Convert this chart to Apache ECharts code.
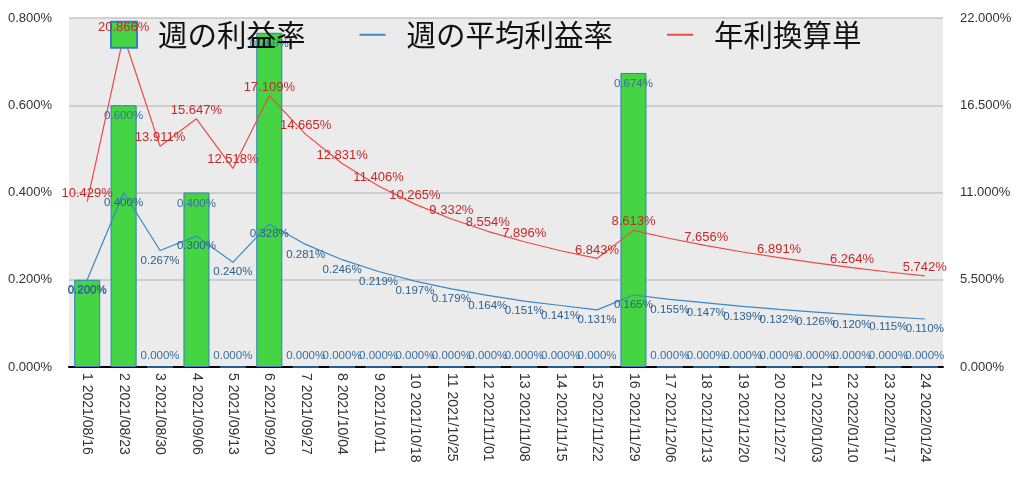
<!DOCTYPE html>
<html>
<head>
<meta charset="utf-8">
<script src="https://cdn.jsdelivr.net/npm/echarts@6/dist/echarts.min.js"></script>
<style>
html,body{margin:0;padding:0;background:#fff;}
#chart{width:1024px;height:479px;}
</style>
</head>
<body>
<div id="chart"></div>
<script>
const categories = ['1 2021/08/16','2 2021/08/23','3 2021/08/30','4 2021/09/06','5 2021/09/13','6 2021/09/20','7 2021/09/27','8 2021/10/04','9 2021/10/11','10 2021/10/18','11 2021/10/25','12 2021/11/01','13 2021/11/08','14 2021/11/15','15 2021/11/22','16 2021/11/29','17 2021/12/06','18 2021/12/13','19 2021/12/20','20 2021/12/27','21 2022/01/03','22 2022/01/10','23 2022/01/17','24 2022/01/24'];
const weeklyRate = [0.200,0.600,0.000,0.400,0.000,0.766,0.000,0.000,0.000,0.000,0.000,0.000,0.000,0.000,0.000,0.674,0.000,0.000,0.000,0.000,0.000,0.000,0.000,0.000];
const avgRate = [0.200,0.400,0.267,0.300,0.240,0.328,0.281,0.246,0.219,0.197,0.179,0.164,0.151,0.141,0.131,0.165,0.155,0.147,0.139,0.132,0.126,0.120,0.115,0.110];
const annualRate = [10.429,20.866,13.911,15.647,12.518,17.109,14.665,12.831,11.406,10.265,9.332,8.554,7.896,7.33,6.843,8.613,8.10,7.656,7.25,6.891,6.56,6.264,5.99,5.742];
const annualHiddenLabels = [13,16,18,20,22];
const leftTicks = {min:0, max:0.8, interval:0.2};
const rightTicks = {min:0, max:22, interval:5.5};

const chart = echarts.init(document.getElementById('chart'), null, {renderer:'canvas'});
const pct = v => Number(v).toFixed(3) + '%';

const barData = weeklyRate.map(v => ({
  value: v,
  label: { position: v > 0 ? 'insideTop' : 'top', distance: 5 }
}));
const annualLabelData = annualRate.map((v, i) => ({
  value: v,
  label: { show: annualHiddenLabels.indexOf(i) < 0 }
}));

chart.setOption({
  animation: false,
  backgroundColor: '#ffffff',
  textStyle: { fontFamily: 'Liberation Sans, Arial, sans-serif' },
  grid: { left: 69, right: 81, top: 18, bottom: 112, show: true, backgroundColor: '#ebebeb', borderWidth: 0 },
  legend: {
    left: 110, top: 20, padding: 0, z: 4,
    itemWidth: 26, itemHeight: 26, itemGap: 53,
    textStyle: { fontSize: 29.5, color: '#111', fontFamily: 'Noto Sans CJK JP, sans-serif', padding: [0,0,0,16] },
    data: [
      { name: '週の利益率', icon: 'rect' },
      { name: '週の平均利益率', itemStyle: { opacity: 0 } },
      { name: '年利換算単', itemStyle: { opacity: 0 } }
    ]
  },
  xAxis: {
    type: 'category',
    data: categories,
    axisLine: { show: true, lineStyle: { color: '#000', width: 2 } },
    axisTick: { show: false },
    axisLabel: { rotate: -90, interval: 0, fontSize: 14, color: '#333', margin: 6 },
    splitLine: { show: false }
  },
  yAxis: [
    {
      type: 'value', min: leftTicks.min, max: leftTicks.max, interval: leftTicks.interval,
      axisLabel: { formatter: pct, fontSize: 13, color: '#333', margin: 17 },
      axisLine: { show: false }, axisTick: { show: false },
      splitLine: { show: true, lineStyle: { color: '#c4c4c4', width: 1.5 } }
    },
    {
      type: 'value', min: rightTicks.min, max: rightTicks.max, interval: rightTicks.interval,
      position: 'right',
      axisLabel: { formatter: pct, fontSize: 13, color: '#333', margin: 17 },
      axisLine: { show: false }, axisTick: { show: false },
      splitLine: { show: false }
    }
  ],
  series: [
    {
      name: '週の利益率', type: 'bar', yAxisIndex: 0,
      data: barData, barWidth: 26,
      itemStyle: { color: '#44d444', borderColor: '#2f7fbf', borderWidth: 1 },
      label: { show: true, formatter: p => pct(p.value), fontSize: 11.5, color: '#3a6f9f' },
      z: 2
    },
    {
      name: '週の平均利益率', type: 'line', yAxisIndex: 0,
      data: avgRate, symbol: 'circle', symbolSize: 0, showSymbol: true,
      lineStyle: { color: '#3a88c8', width: 1.2 },
      itemStyle: { color: '#3a88c8' },
      label: { show: true, position: 'bottom', distance: 4, formatter: p => pct(p.value), fontSize: 11.5, color: '#2a5f8f' },
      z: 3
    },
    {
      name: '年利換算単', type: 'line', yAxisIndex: 1,
      data: annualRate, symbol: 'none',
      lineStyle: { color: '#f04848', width: 1.2 },
      itemStyle: { color: '#f04848' },
      z: 3
    },
    {
      name: '年利換算単ラベル', type: 'scatter', yAxisIndex: 1,
      data: annualLabelData, symbol: 'circle', symbolSize: 0, silent: true,
      itemStyle: { color: '#f04848', opacity: 1 },
      label: { show: true, position: 'top', distance: 2, formatter: p => pct(p.value), fontSize: 13, color: '#c82828', opacity: 1 },
      z: 6
    }
  ]
});
</script>
</body>
</html>
